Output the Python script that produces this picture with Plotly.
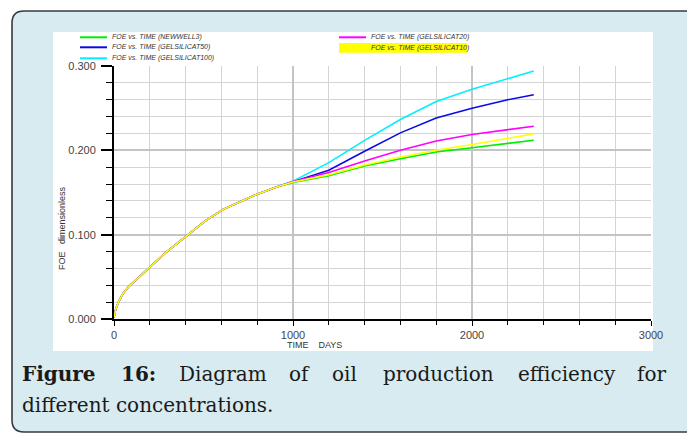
import plotly.graph_objects as go

# Simulation time (days) and FOE (dimensionless) for each case
days = [0, 10, 25, 50, 80, 120, 183, 285, 397, 508, 610, 713, 800, 900, 1000,
        1200, 1400, 1600, 1800, 2000, 2200, 2345]

foe_newwell3 = [0.002, 0.012, 0.020, 0.030, 0.038, 0.046, 0.058, 0.078, 0.097, 0.116,
                0.130, 0.140, 0.148, 0.156, 0.162,
                0.1698, 0.1815, 0.1900, 0.1980, 0.2030, 0.2086, 0.2120]
foe_gel50 = [0.002, 0.012, 0.020, 0.030, 0.038, 0.046, 0.058, 0.078, 0.097, 0.116,
             0.130, 0.140, 0.148, 0.156, 0.163,
             0.1765, 0.1990, 0.2207, 0.2384, 0.2500, 0.2600, 0.2660]
foe_gel100 = [0.002, 0.012, 0.020, 0.030, 0.038, 0.046, 0.058, 0.078, 0.097, 0.116,
              0.130, 0.140, 0.148, 0.156, 0.1635,
              0.1854, 0.2118, 0.2365, 0.2580, 0.2725, 0.2854, 0.2940]
foe_gel20 = [0.002, 0.012, 0.020, 0.030, 0.038, 0.046, 0.058, 0.078, 0.097, 0.116,
             0.130, 0.140, 0.148, 0.156, 0.163,
             0.1737, 0.1874, 0.2000, 0.2110, 0.2188, 0.2247, 0.2286]
foe_gel10 = [0.002, 0.012, 0.020, 0.030, 0.038, 0.046, 0.058, 0.078, 0.097, 0.116,
             0.130, 0.140, 0.148, 0.156, 0.1625,
             0.1710, 0.1827, 0.1921, 0.2000, 0.2070, 0.2140, 0.2195]

series = [
    ("FOE vs. TIME (NEWWELL3)", foe_newwell3, "#00ee00"),
    ("FOE vs. TIME (GELSILICAT50)", foe_gel50, "#0a0ae6"),
    ("FOE vs. TIME (GELSILICAT100)", foe_gel100, "#00f0ff"),
    ("FOE vs. TIME (GELSILICAT20)", foe_gel20, "#ff00ff"),
    ("FOE vs. TIME (GELSILICAT10)", foe_gel10, "#ffff00"),
]

W, H = 687, 433
PX0, PX1 = 114, 651   # plot area left/right (pixels)
PY0, PY1 = 66, 319    # plot area top/bottom (pixels)


def xp(px):
    return (px - PX0) / (PX1 - PX0)


def yp(py):
    return (PY1 - py) / (PY1 - PY0)


fig = go.Figure()
for name, vals, col in series:
    fig.add_trace(go.Scatter(x=days, y=vals, mode="lines", name=name,
                             line=dict(color=col, width=1.6), showlegend=False))

grid_minor = "#d4d4d4"
grid_major = "#c4c4c4"
tick_font = dict(family="Liberation Sans", size=11, color="#444444")

fig.update_xaxes(range=[0, 3000], tick0=0, dtick=1000, showgrid=True,
                 gridcolor=grid_major, gridwidth=1.6, zeroline=False,
                 showline=True, linecolor="black", linewidth=1.5,
                 ticks="outside", ticklen=5, tickcolor="black", tickwidth=1.3,
                 tickfont=tick_font,
                 minor=dict(dtick=200, showgrid=True, gridcolor=grid_minor, gridwidth=1,
                            ticks="outside", ticklen=4, tickcolor="black", tickwidth=1))
fig.update_yaxes(range=[0, 0.3], tick0=0, dtick=0.1, tickformat=".3f", showgrid=True,
                 gridcolor=grid_major, gridwidth=1.6, zeroline=False,
                 showline=True, linecolor="black", linewidth=2,
                 ticks="outside", ticklen=11, tickcolor="black", tickwidth=1.5,
                 tickfont=tick_font, ticklabelstandoff=3,
                 minor=dict(dtick=0.02, showgrid=True, gridcolor=grid_minor, gridwidth=1,
                            ticks="outside", ticklen=6, tickcolor="black", tickwidth=1))

shapes = []
# rounded light-blue frame
L, T, R, B, r = 12, 11, 700, 432, 12
path = (f"M {xp(R)},{yp(T)} L {xp(L + r)},{yp(T)} Q {xp(L)},{yp(T)} {xp(L)},{yp(T + r)} "
        f"L {xp(L)},{yp(B - r)} Q {xp(L)},{yp(B)} {xp(L + r)},{yp(B)} L {xp(R)},{yp(B)} Z")
shapes.append(dict(type="path", xref="paper", yref="paper", path=path,
                   fillcolor="#d7ebf1", line=dict(color="#3a3a3a", width=1.6), layer="below"))
# white chart panel
shapes.append(dict(type="rect", xref="paper", yref="paper",
                   x0=xp(53), x1=xp(653), y0=yp(351), y1=yp(32),
                   fillcolor="white", line=dict(width=0), layer="below"))

annotations = []
legend_font = dict(family="Liberation Sans", size=7, color="#333333")
legend_pos = [
    (80, 37.3), (80, 47.3), (80, 58.3), (339, 37.3), (339, 47.7),
]
for (name, vals, col), (lx, ly) in zip(series, legend_pos):
    if col == "#ffff00":
        shapes.append(dict(type="rect", xref="paper", yref="paper",
                           x0=xp(339), x1=xp(467), y0=yp(52.7), y1=yp(43),
                           fillcolor="#ffff00", line=dict(width=0), layer="above"))
    else:
        shapes.append(dict(type="line", xref="paper", yref="paper",
                           x0=xp(lx), x1=xp(lx + 27), y0=yp(ly), y1=yp(ly),
                           line=dict(color=col, width=2)))
    annotations.append(dict(text=f"<i>{name}</i>", xref="paper", yref="paper",
                            x=xp(lx + 29.5), y=yp(ly), xanchor="left", yanchor="middle",
                            showarrow=False, font=legend_font))

# axis titles
annotations.append(dict(text="FOE&nbsp;&nbsp;&nbsp;dimensionless", xref="paper", yref="paper",
                        x=xp(62), y=yp(228), textangle=-90, showarrow=False,
                        xanchor="center", yanchor="middle",
                        font=dict(family="Liberation Sans", size=9, color="#333333")))
annotations.append(dict(text="TIME&nbsp;&nbsp;&nbsp;&nbsp;DAYS", xref="paper", yref="paper",
                        x=xp(314), y=yp(345), showarrow=False,
                        xanchor="center", yanchor="middle",
                        font=dict(family="Liberation Sans", size=9, color="#333333")))

# caption (first line justified across the frame)
cap_font = dict(family="DejaVu Serif", size=20, color="#1a1a1a")
line1 = [("<b>Figure</b>", 20), ("<b>16:</b>", 119), ("Diagram", 177), ("of", 287),
         ("oil", 330), ("production", 381), ("efficiency", 516)]
for word, x in line1:
    annotations.append(dict(text=word, xref="paper", yref="paper", x=xp(x), y=yp(374),
                            xanchor="left", yanchor="middle", showarrow=False, font=cap_font))
annotations.append(dict(text="for", xref="paper", yref="paper", x=xp(668), y=yp(374),
                        xanchor="right", yanchor="middle", showarrow=False, font=cap_font))
annotations.append(dict(text="different concentrations.", xref="paper", yref="paper",
                        x=xp(20), y=yp(405), xanchor="left", yanchor="middle",
                        showarrow=False, font=cap_font))

fig.update_layout(width=W, height=H, autosize=False,
                  margin=dict(l=PX0, r=W - PX1, t=PY0, b=H - PY1, pad=0),
                  paper_bgcolor="white", plot_bgcolor="white",
                  shapes=shapes, annotations=annotations, showlegend=False)

fig.write_html("out.html")
